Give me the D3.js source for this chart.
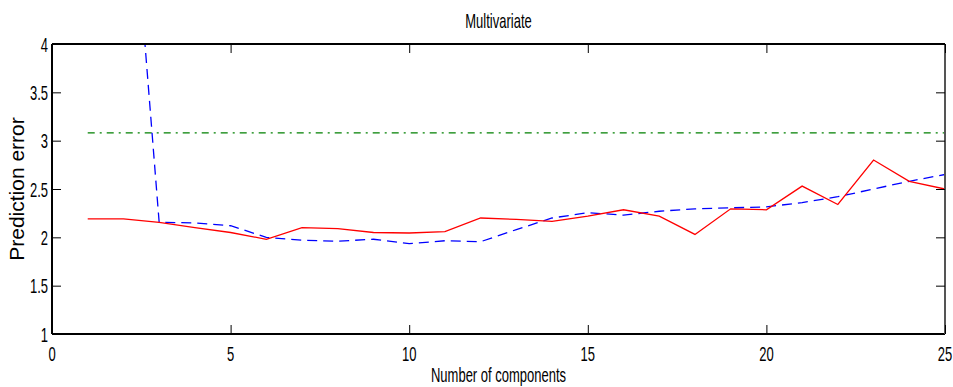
<!DOCTYPE html>
<html>
<head>
<meta charset="utf-8">
<script src="https://cdn.jsdelivr.net/npm/d3@7"></script>
<style>
  html, body { margin: 0; padding: 0; background: #fff; }
  svg { display: block; }
</style>
</head>
<body>
<svg id="chart" width="953" height="387"></svg>
<script>
// ---- Data ----
const components = d3.range(1, 26);
const redSeries = [2.19, 2.19, 2.155, 2.10, 2.05, 1.98, 2.10, 2.09, 2.05, 2.045, 2.06, 2.20, 2.185, 2.165, 2.22, 2.285, 2.22, 2.03, 2.295, 2.285, 2.53, 2.34, 2.80, 2.58, 2.50];
const blueSeries = [10.5, 6.8, 2.155, 2.15, 2.12, 2.00, 1.97, 1.96, 1.98, 1.935, 1.965, 1.955, 2.08, 2.20, 2.255, 2.23, 2.27, 2.295, 2.305, 2.315, 2.36, 2.42, 2.50, 2.58, 2.65];
const greenLevel = 3.08;
const xTicks = [0, 5, 10, 15, 20, 25];
const yTicks = [1, 1.5, 2, 2.5, 3, 3.5, 4];
const yTickLabels = ["1", "1.5", "2", "2.5", "3", "3.5", "4"];
const titleText = "Multivariate";
const xLabelText = "Number of components";
const yLabelText = "Prediction error";

// ---- Layout ----
const svg = d3.select("#chart");
const L = 52, R = 945, T = 44, B = 334;
const x = d3.scaleLinear().domain([0, 25]).range([L, R]);
const y = d3.scaleLinear().domain([1, 4]).range([B, T]);
const narrow = "'Liberation Sans', Arial, sans-serif";
const sx = 0.65;

svg.append("defs").append("clipPath").attr("id", "clip")
  .append("rect").attr("x", L).attr("y", T).attr("width", R - L).attr("height", B - T);

// ---- Lines ----
const line = d3.line().x((d, i) => x(components[i])).y(d => y(d));
const g = svg.append("g").attr("clip-path", "url(#clip)");

g.append("path").datum(components.map(() => greenLevel))
  .attr("d", line).attr("fill", "none").attr("stroke", "#008000")
  .attr("stroke-width", 1.3).attr("stroke-dasharray", "7,5,2,5");

g.append("path").datum(blueSeries)
  .attr("d", line).attr("fill", "none").attr("stroke", "#0000ff")
  .attr("stroke-width", 1.3).attr("stroke-dasharray", "10,6");

g.append("path").datum(redSeries)
  .attr("d", line).attr("fill", "none").attr("stroke", "#ff0000")
  .attr("stroke-width", 1.3);

// ---- Axes frame ----
const frame = svg.append("g");
frame.append("line").attr("x1", L).attr("x2", R).attr("y1", T).attr("y2", T).attr("stroke", "#000").attr("stroke-width", 2);
frame.append("line").attr("x1", L).attr("x2", R).attr("y1", B).attr("y2", B).attr("stroke", "#000").attr("stroke-width", 2);
frame.append("line").attr("x1", L).attr("x2", L).attr("y1", T).attr("y2", B).attr("stroke", "#000").attr("stroke-width", 2);
frame.append("line").attr("x1", R).attr("x2", R).attr("y1", T).attr("y2", B).attr("stroke", "#555").attr("stroke-width", 2);

// Inward ticks via d3 axes
const tickLen = 9;
const xAxisB = d3.axisBottom(x).tickValues(xTicks).tickSize(-tickLen).tickFormat("");
const xAxisT = d3.axisTop(x).tickValues(xTicks).tickSize(-tickLen).tickFormat("");
const yAxisL = d3.axisLeft(y).tickValues(yTicks).tickSize(-tickLen).tickFormat("");
const yAxisR = d3.axisRight(y).tickValues(yTicks).tickSize(-tickLen).tickFormat("");
[[xAxisB, `translate(0,${B})`], [xAxisT, `translate(0,${T})`], [yAxisL, `translate(${L},0)`], [yAxisR, `translate(${R},0)`]]
  .forEach(([ax, tr]) => {
    const a = svg.append("g").attr("transform", tr).call(ax);
    a.select(".domain").remove();
    a.selectAll(".tick line").attr("stroke", "#000").attr("stroke-width", 1);
  });

// Tick labels
xTicks.forEach(v => {
  svg.append("text")
    .attr("transform", `translate(${x(v)},361) scale(${sx},1)`)
    .attr("text-anchor", "middle").attr("font-family", narrow).attr("font-size", 20)
    .attr("fill", "#000").text(v);
});
yTicks.forEach((v, i) => {
  svg.append("text")
    .attr("transform", `translate(48,${y(v) + 7.5}) scale(${sx},1)`)
    .attr("text-anchor", "end").attr("font-family", narrow).attr("font-size", 20)
    .attr("fill", "#000").text(yTickLabels[i]);
});

// Title and labels
svg.append("text")
  .attr("transform", `translate(${(L + R) / 2},28) scale(${sx},1)`)
  .attr("text-anchor", "middle").attr("font-family", narrow).attr("font-size", 20)
  .attr("fill", "#000").text(titleText);
svg.append("text")
  .attr("transform", `translate(${(L + R) / 2},382) scale(${sx},1)`)
  .attr("text-anchor", "middle").attr("font-family", narrow).attr("font-size", 20)
  .attr("fill", "#000").text(xLabelText);
svg.append("text")
  .attr("transform", `translate(24,${(T + B) / 2}) rotate(-90)`)
  .attr("text-anchor", "middle").attr("font-family", "'Liberation Sans', Arial, sans-serif").attr("font-size", 21)
  .attr("fill", "#000").text(yLabelText);
</script>
</body>
</html>
